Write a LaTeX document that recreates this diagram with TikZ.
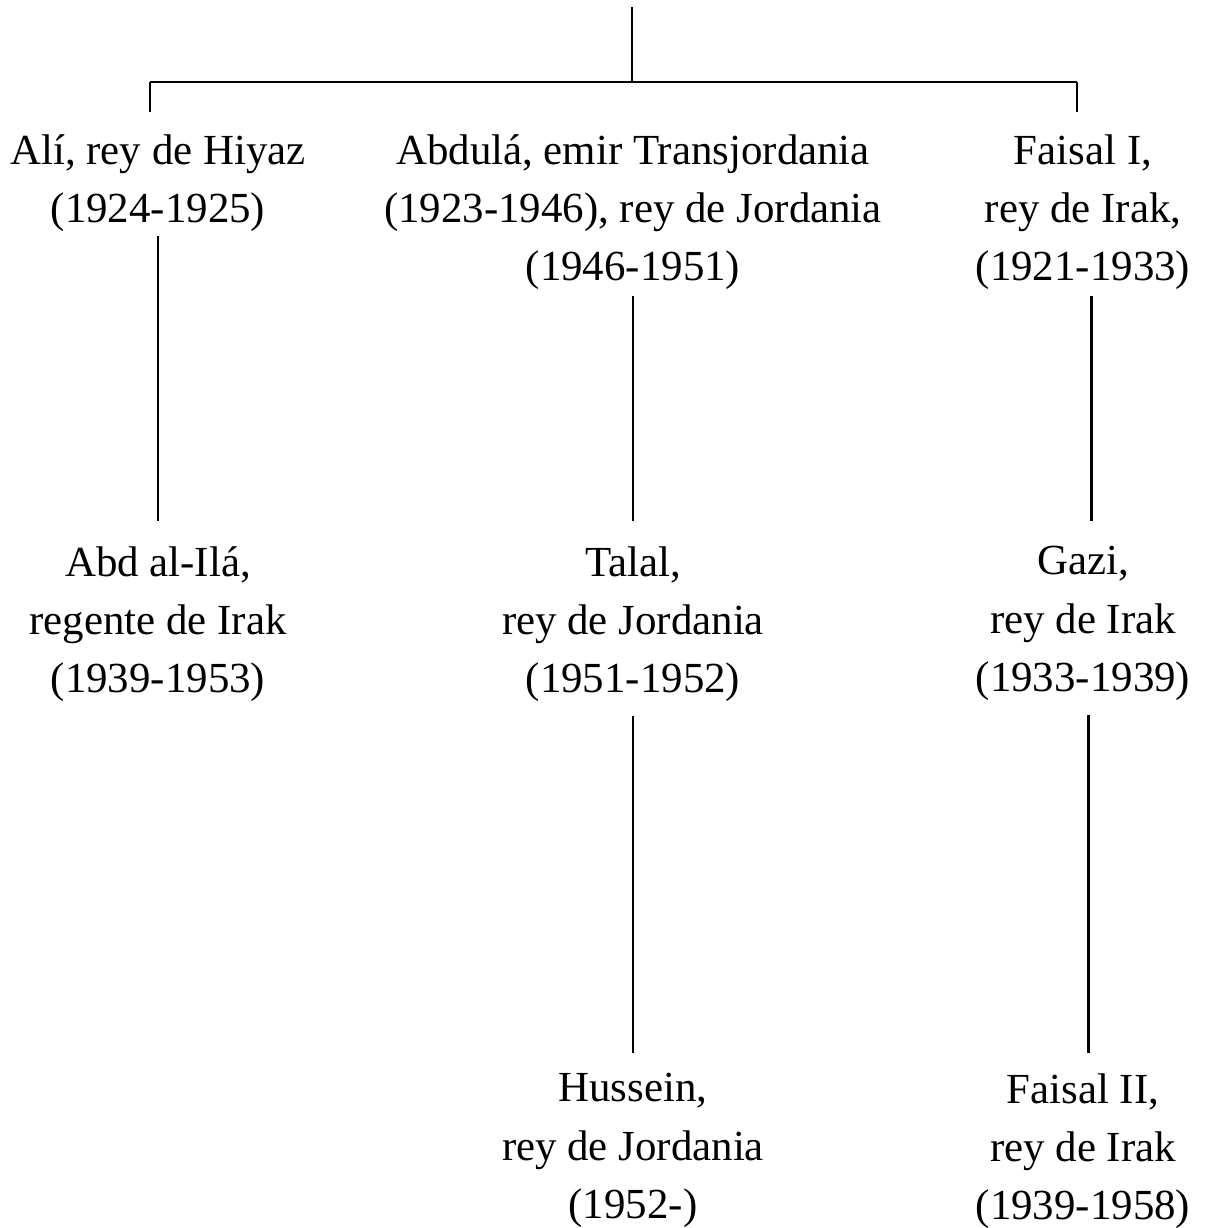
\documentclass[tikz,border=0pt]{standalone}
\usepackage{fontspec}
\setmainfont{Liberation Serif}
\usepackage{tikz}

\begin{document}
\begin{tikzpicture}[x=0.025cm,y=-0.025cm,
    pnode/.style={anchor=north,align=center,inner sep=0,font=\fontsize{30.5}{41.5}\selectfont},
    link/.style={line width=2pt}]
    \useasboundingbox (0,0) rectangle (1209,1228);

    \node[pnode] (ali) at (158,134) {Alí, rey de Hiyaz\\(1924-1925)};
    \node[pnode] (abdula) at (633,134) {Abdulá, emir Transjordania\\(1923-1946), rey de Jordania\\(1946-1951)};
    \node[pnode] (faisal1) at (1083,134) {Faisal I,\\rey de Irak,\\(1921-1933)};
    \node[pnode] (abdilah) at (158,546) {Abd al-Ilá,\\regente de Irak\\(1939-1953)};
    \node[pnode] (talal) at (633,546) {Talal,\\rey de Jordania\\(1951-1952)};
    \node[pnode] (gazi) at (1083,546) {Gazi,\\rey de Irak\\(1933-1939)};
    \node[pnode] (hussein) at (633,1073) {Hussein,\\rey de Jordania\\(1952-)};
    \node[pnode] (faisal2) at (1083,1073) {Faisal II,\\rey de Irak\\(1939-1958)};

    \coordinate (top) at (632,7);
    \coordinate (bar) at (632,82);
    \coordinate (barl) at (150,82);
    \coordinate (barr) at (1077,82);
    \draw[link] (top) -- (bar);
    \draw[link] (barl) -- (barr);
    \draw[link] (barl) -- ++(0,30);
    \draw[link] (barr) -- ++(0,30);

    \draw[link,shorten <=3,shorten >=18] (ali) -- (abdilah);
    \draw[link,shorten <=4,shorten >=18] (abdula) -- (talal);
    \draw[link,shorten <=10,shorten >=14] (talal) -- (hussein);
    \draw[link,shorten <=4,shorten >=18] ([xshift=6]faisal1.south) -- ([xshift=6]gazi.north);
    \draw[link,shorten <=10,shorten >=14] ([xshift=4]gazi.south) -- ([xshift=4]faisal2.north);
\end{tikzpicture}
\end{document}
